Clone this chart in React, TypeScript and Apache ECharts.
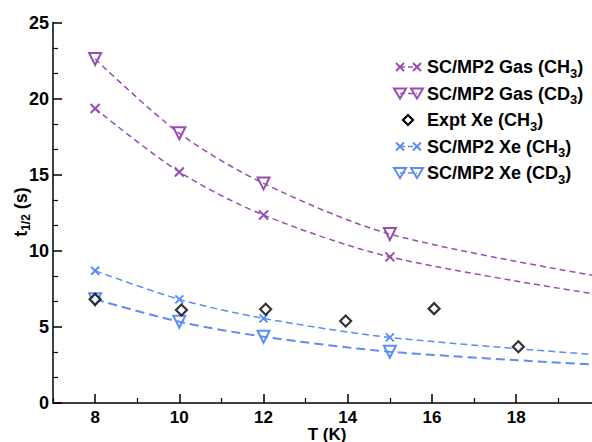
import React, { useEffect, useRef } from "react";
import * as echarts from "echarts";

const curveT = [8, 10, 12, 15, 20];
const gasCH3 = [19.35, 15.18, 12.35, 9.6, 7.1];
const gasCD3 = [22.6, 17.72, 14.43, 11.1, 8.3];
const xeCH3 = [8.69, 6.81, 5.56, 4.31, 3.15];
const xeCD3 = [6.81, 5.34, 4.36, 3.37, 2.5];
const exptT = [8, 10.05, 12.05, 13.95, 16.05, 18.05];
const exptXe = [6.81, 6.11, 6.16, 5.39, 6.2, 3.7];
const evenTicks = [8, 10, 12, 14, 16, 18];
const oddTicks = [7, 9, 11, 13, 15, 17, 19];

const PURPLE = "#9a4db0";
const BLUE = "#5b8ef2";
const FONT = "Liberation Sans, Arial, sans-serif";

const X_PATH = "path://M0,0L10,10M10,0L0,10";
const TRI_PATH = "path://M0,0L12,0L6,10Z";

function curve(vals: number[], color: string, symbol: string, size: number, width: number, dash: number[]) {
  return {
    type: "line",
    smooth: 0.3,
    clip: true,
    symbol,
    symbolSize: size,
    showSymbol: true,
    lineStyle: { color, width, type: dash },
    itemStyle: { color: "rgba(0,0,0,0)", borderColor: color, borderWidth: 2 },
    data: curveT.map((t, i) =>
      i === curveT.length - 1 ? { value: [t, vals[i]], symbol: "none" } : [t, vals[i]]
    ),
    z: 3,
  };
}

const legendItems = [
  { label: "SC/MP2 Gas (CH{s|3})", color: PURPLE, kind: "x" },
  { label: "SC/MP2 Gas (CD{s|3})", color: PURPLE, kind: "tri" },
  { label: "Expt Xe (CH{s|3})", color: "#000", kind: "dia" },
  { label: "SC/MP2 Xe (CH{s|3})", color: BLUE, kind: "x" },
  { label: "SC/MP2 Xe (CD{s|3})", color: BLUE, kind: "tri" },
];

function marker(kind: string, cx: number, cy: number, color: string): any {
  if (kind === "x") {
    const r = 4;
    return {
      type: "group",
      children: [
        { type: "line", shape: { x1: cx - r, y1: cy - r, x2: cx + r, y2: cy + r }, style: { stroke: color, lineWidth: 2 } },
        { type: "line", shape: { x1: cx + r, y1: cy - r, x2: cx - r, y2: cy + r }, style: { stroke: color, lineWidth: 2 } },
      ],
    };
  }
  if (kind === "tri") {
    return {
      type: "polygon",
      shape: { points: [[cx - 6, cy - 5], [cx + 6, cy - 5], [cx, cy + 5]] },
      style: { fill: "none", stroke: color, lineWidth: 2 },
    };
  }
  return {
    type: "polygon",
    shape: { points: [[cx, cy - 5], [cx + 5, cy], [cx, cy + 5], [cx - 5, cy]] },
    style: { fill: "#fff", stroke: color, lineWidth: 2.2 },
  };
}

function buildGraphics() {
  const els: any[] = [];
  legendItems.forEach((it, i) => {
    const cy = 67 + i * 26.5;
    if (it.kind === "dia") {
      els.push(marker("dia", 408, cy, it.color));
    } else {
      els.push({
        type: "line",
        shape: { x1: 400, y1: cy, x2: 417, y2: cy },
        style: { stroke: it.color, lineWidth: 1.5, lineDash: [5, 3] },
      });
      els.push(marker(it.kind, 400, cy, it.color));
      els.push(marker(it.kind, 417, cy, it.color));
    }
    els.push({
      type: "text",
      x: 427,
      y: cy,
      style: {
        text: it.label,
        fill: "#000",
        font: `bold 18px ${FONT}`,
        verticalAlign: "middle",
        rich: {
          s: { fontSize: 13, fontWeight: "bold", fontFamily: FONT, padding: [12, 0, 0, 0] },
        },
      },
    });
  });
  // axis names
  els.push({
    type: "text",
    x: 21,
    y: 212,
    rotation: Math.PI / 2,
    style: {
      text: "{a|t}{b|1/2}{a| (s)}",
      align: "center",
      verticalAlign: "middle",
      rich: {
        a: { fontSize: 18, fontWeight: "bold", fontFamily: FONT, fill: "#000" },
        b: { fontSize: 12, fontWeight: "bold", fontFamily: FONT, fill: "#000", padding: [10, 0, 0, 0] },
      },
    },
  });
  els.push({
    type: "text",
    x: 327,
    y: 434,
    style: {
      text: "T (K)",
      align: "center",
      verticalAlign: "middle",
      fill: "#000",
      font: `bold 17px ${FONT}`,
    },
  });
  return els;
}

export default function App() {
  const ref = useRef<HTMLDivElement>(null);
  useEffect(() => {
    const chart = echarts.init(ref.current!, null, { renderer: "svg" });
    const axisLabelStyle = { color: "#000", fontSize: 17, fontWeight: "bold", fontFamily: FONT };
    chart.setOption({
      animation: false,
      backgroundColor: "#fff",
      grid: { left: 53, right: 0, top: 22.5, bottom: 39, outerBoundsMode: "none", containLabel: false },
      xAxis: [
        {
          type: "value",
          min: 7,
          max: 19.8,
          position: "bottom",
          axisLine: { show: true, lineStyle: { color: "#000", width: 1.5 } },
          axisTick: { show: true, inside: true, length: 9, customValues: evenTicks, lineStyle: { color: "#000", width: 1.5 } },
          axisLabel: { ...axisLabelStyle, customValues: evenTicks, margin: 6, lineHeight: 17 },
          splitLine: { show: false },
        },
        {
          type: "value",
          min: 7,
          max: 19.8,
          position: "bottom",
          axisLine: { show: false },
          axisTick: { show: true, inside: true, length: 5, customValues: oddTicks, lineStyle: { color: "#000", width: 1.2 } },
          axisLabel: { show: false },
          splitLine: { show: false },
        },
      ],
      yAxis: {
        type: "value",
        min: 0,
        max: 25,
        interval: 5,
        axisLine: { show: true, lineStyle: { color: "#000", width: 1.5 } },
        axisTick: { show: true, inside: true, length: 9, lineStyle: { color: "#000", width: 1.5 } },
        minorTick: { show: true, splitNumber: 3, length: 5, lineStyle: { color: "#000", width: 1.2 } },
        axisLabel: { ...axisLabelStyle, fontSize: 18, margin: 4 },
        splitLine: { show: false },
        minorSplitLine: { show: false },
      },
      series: [
        curve(gasCH3, PURPLE, X_PATH, 9, 1.5, [6, 4]),
        curve(gasCD3, PURPLE, TRI_PATH, 12, 1.5, [6, 4]),
        curve(xeCH3, BLUE, X_PATH, 8, 1.5, [7, 4]),
        curve(xeCD3, BLUE, TRI_PATH, 12, 2, [9, 5]),
        {
          type: "scatter",
          symbol: "diamond",
          symbolSize: 11,
          itemStyle: { color: "#fff", borderColor: "#000", borderWidth: 2.2 },
          data: exptT.map((t, i) => [t, exptXe[i]]),
          z: 4,
        },
      ],
      graphic: buildGraphics(),
    });
    return () => chart.dispose();
  }, []);
  return <div ref={ref} style={{ width: 592, height: 442, position: "absolute", left: 0, top: 0 }} />;
}
